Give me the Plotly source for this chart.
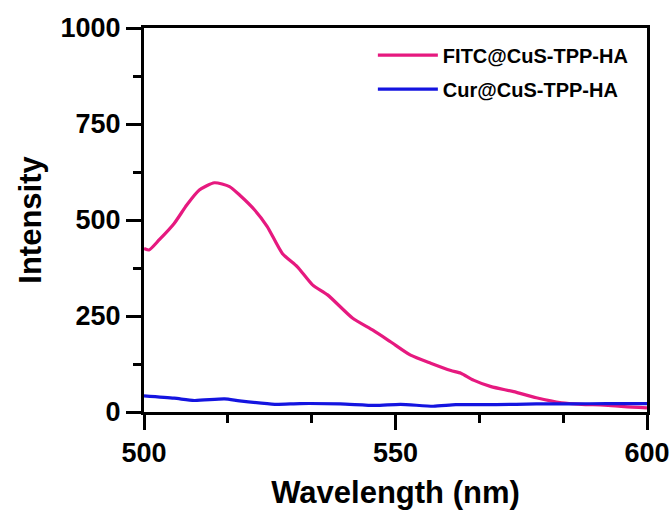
import plotly.graph_objects as go

fitc_x = [500, 501, 503, 506, 508.5, 511, 514, 517, 519, 522, 524.5, 527.5, 530.5,
          533.5, 536.5, 541.5, 545.5, 549, 553, 557, 561, 563, 565.5, 569, 573.5,
          578, 583, 587, 591.5, 595.5, 600]
fitc_y = [426, 422, 448, 491, 539, 578, 597, 587, 565, 526, 483, 413, 378,
          331, 305, 244, 213, 183, 148, 127, 108, 101, 83, 66, 53,
          37, 24, 20, 18, 14, 11]

cur_x = [500, 506, 510, 516, 519, 526, 531, 539, 546, 551, 557.5, 562, 570, 578, 585, 592, 600]
cur_y = [42, 36, 30, 34, 29, 20, 22, 21, 17, 20, 15, 19, 19, 21, 21, 22, 22]

names = ["FITC@CuS-TPP-HA", "Cur@CuS-TPP-HA"]
colors = ["#E6197F", "#1414E0"]

x_ticks = [500, 550, 600]
y_ticks = [0, 250, 500, 750, 1000]

fig = go.Figure()
fig.add_trace(go.Scatter(x=fitc_x, y=fitc_y, mode="lines", name=names[0], legendgroup="a",
                         line=dict(color=colors[0], width=3.2, shape="spline", smoothing=0.6)))
fig.add_trace(go.Scatter(x=cur_x, y=cur_y, mode="lines", name=names[1], legendgroup="b",
                         line=dict(color=colors[1], width=3.2, shape="spline", smoothing=0.6)))

font_family = "Liberation Sans, Arial, sans-serif"
axis_common = dict(
    showline=True, linecolor="black", linewidth=3, mirror=True,
    ticks="outside", ticklen=15, tickwidth=3, tickcolor="black",
    showgrid=False, zeroline=False, automargin=False,
    tickfont=dict(family=font_family, size=27, color="black", weight="bold"),
)

fig.update_layout(
    width=672, height=518,
    margin=dict(l=144, r=25, t=28, b=106),
    paper_bgcolor="white", plot_bgcolor="white",
    showlegend=True,
    legend=dict(x=0.455, y=0.98, xanchor="left", yanchor="top",
                bgcolor="rgba(0,0,0,0)", itemwidth=60,
                font=dict(family=font_family, size=20, color="black", weight="bold"),
                tracegroupgap=5),
    xaxis=dict(range=[500, 600], tickvals=x_ticks, ticktext=[str(v) for v in x_ticks],
               minor=dict(tick0=500, dtick=50/3, ticks="outside", ticklen=8, tickwidth=3, tickcolor="black"),
               title=dict(text="Wavelength (nm)", standoff=14,
                          font=dict(family=font_family, size=31, color="black", weight="bold")),
               **axis_common),
    yaxis=dict(range=[0, 1000], tickvals=y_ticks, ticktext=[str(v) for v in y_ticks],
               minor=dict(tick0=0, dtick=125, ticks="outside", ticklen=8, tickwidth=3, tickcolor="black"),
               title=dict(text="Intensity", standoff=10,
                          font=dict(family=font_family, size=31, color="black", weight="bold")),
               **axis_common),
)

fig.write_html("out.html")
